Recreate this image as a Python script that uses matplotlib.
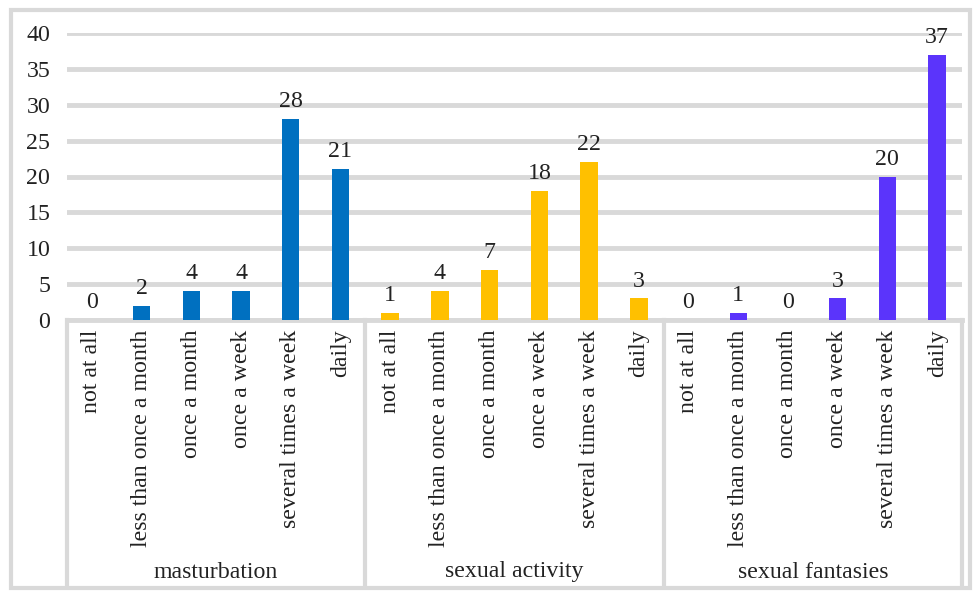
import matplotlib
matplotlib.use("Agg")
import matplotlib.pyplot as plt
from matplotlib.patches import Rectangle
import matplotlib.transforms as mtransforms

groups = ["masturbation", "sexual activity", "sexual fantasies"]
categories = ["not at all", "less than once a month", "once a month",
              "once a week", "several times a week", "daily"]
masturbation = [0, 2, 4, 4, 28, 21]
sexual_activity = [1, 4, 7, 18, 22, 3]
sexual_fantasies = [0, 1, 0, 3, 20, 37]
series = [masturbation, sexual_activity, sexual_fantasies]
colors = ["#0070c0", "#ffc000", "#5b34fb"]
yticks = [0, 5, 10, 15, 20, 25, 30, 35, 40]

plt.rcParams['font.family'] = ['Liberation Serif', 'DejaVu Serif']
W, H = 974, 592
fs = 17.2
txt_c = "#222222"
fig = plt.figure(figsize=(W / 100, H / 100), dpi=100)
fig.patch.set_facecolor("white")

# outer frame
fig.patches.append(Rectangle((11 / W, (H - 588) / H), (970 - 11) / W, (588 - 10) / H,
                             transform=fig.transFigure, fill=False,
                             edgecolor="#d9d9d9", linewidth=3))

left, right, top, bottom = 67, 962, 33, 320
ax = fig.add_axes([left / W, 1 - bottom / H, (right - left) / W, (bottom - top) / H])

grid_c = "#d9d9d9"
ncat = len(categories)
xt, xl = [], []
for gi, vals in enumerate(series):
    for ci, v in enumerate(vals):
        pos = gi * ncat + ci
        ax.bar(pos, v, width=0.35, color=colors[gi], zorder=3)
        ax.annotate(str(v), (pos, v), xytext=(0, 5), textcoords="offset points",
                    ha="center", va="bottom", fontsize=fs, color=txt_c)
        xt.append(pos)
        xl.append(categories[ci])

ax.set_xlim(-0.5, len(series) * ncat - 0.5)
ax.set_ylim(0, 40)
ax.set_yticks(yticks)
ax.set_yticklabels([str(t) for t in yticks], fontsize=fs, color=txt_c)
ax.set_xticks(xt)
ax.set_xticklabels(xl, rotation=90, fontsize=fs, color=txt_c, va="top")
ax.tick_params(axis="both", length=0)
ax.tick_params(axis="x", pad=7)
ax.tick_params(axis="y", pad=12)
for s in ax.spines.values():
    s.set_visible(False)
ax.yaxis.grid(True, color=grid_c, linewidth=3.5, zorder=0)
ax.set_axisbelow(True)

trans = mtransforms.blended_transform_factory(ax.transData, ax.transAxes)
ax_h = bottom - top
drop = (585 - bottom) / ax_h
for b in range(len(series) + 1):
    xb = b * ncat - 0.5
    ax.plot([xb, xb], [0, -drop], transform=trans, color=grid_c, linewidth=3, clip_on=False)
ax.plot([-0.5, len(series) * ncat - 0.5], [0, 0], transform=trans, color=grid_c,
        linewidth=3.5, clip_on=False, zorder=2)

for gi, g in enumerate(groups):
    ax.text(gi * ncat + (ncat - 1) / 2, -(572 - bottom) / ax_h, g, transform=trans,
            ha="center", va="center", fontsize=fs, color=txt_c)

fig.savefig("out.png", dpi=100, facecolor="white")
